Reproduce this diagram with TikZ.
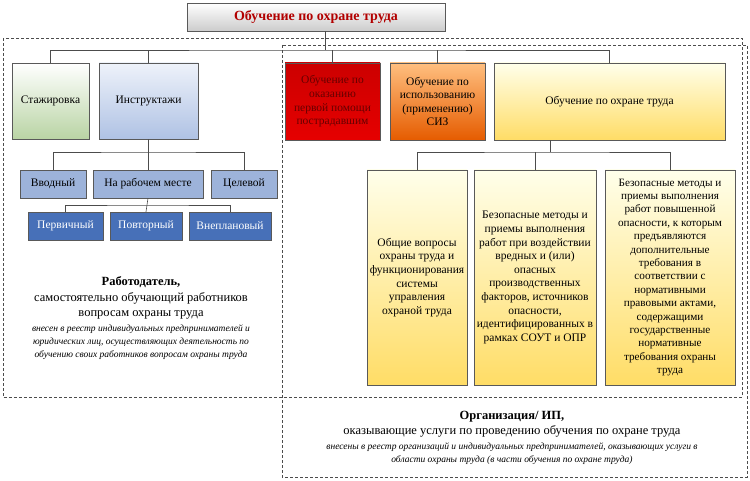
\documentclass[tikz,border=0pt]{standalone}
\usepackage{fontspec}
\setmainfont{Liberation Serif}
\usetikzlibrary{positioning}
\definecolor{lblueC}{HTML}{9DB3DA}
\definecolor{dblueC}{HTML}{4770B8}
\definecolor{blueTop}{HTML}{EEF2FA}
\definecolor{blueBot}{HTML}{AFC2E4}
\definecolor{greenBot}{HTML}{B9D4A4}
\begin{document}
\begin{tikzpicture}[x=1pt,y=-1pt,
    every node/.style={font=\fontsize{11.5}{13.6}\selectfont},
    ]
% -------------------------------------------------
% Box styles
\tikzset{
  base/.style={draw=black!65, align=center, inner sep=1pt},
  grey/.style={base, top color=white, bottom color=black!20},
  green/.style={base, top color=white, bottom color=greenBot},
  blue/.style={base, top color=blueTop, bottom color=blueBot},
  lblue/.style={base, fill=lblueC},
  dblue/.style={base, fill=dblueC, text=white},
  red/.style={base, top color=red!80!black, bottom color=red!90!black},
  orange/.style={base, top color=orange!50, bottom color=orange!80!red!90!black},
  yellow/.style={base, top color=yellow!8, bottom color=yellow!55!orange!60},
  conn/.style={draw=black!70, semithick},
  frame/.style={draw=black!70, densely dashed},
  it/.style={align=center, font={\fontsize{9.5}{13}\selectfont\itshape}}
}
\useasboundingbox (0,0) rectangle (750,481);
% -------------------------------------------------
% Dashed frames
\draw [frame] (3,38) rectangle (742,397);
\draw [frame] (282,45) rectangle (747,477);
% -------------------------------------------------
% Nodes
\node [grey, minimum width=258, minimum height=28, font=\fontsize{14}{16}\selectfont\bfseries, text=red!70!black]
  (top) at (316,17) {Обучение по охране труда};

\node [green, minimum width=77, minimum height=76] (stazh) at (50.5,101) {Стажировка};
\node [blue, minimum width=99, minimum height=76] (instr) at (148.5,101) {Инструктажи};
\node [red, minimum width=95, minimum height=77, text=red!40!black] (first) at (332.5,101.5)
  {Обучение по\\оказанию\\первой помощи\\пострадавшим};
\node [orange, minimum width=95, minimum height=77] (siz) at (437.5,101.5)
  {Обучение по\\использованию\\(применению)\\СИЗ};
\node [yellow, minimum width=231, minimum height=77] (ot) at (609.5,101.5) {Обучение по охране труда};

\node [lblue, minimum width=66, minimum height=28] (vvod) at (53,184) {Вводный};
\node [lblue, minimum width=110, minimum height=28] (rab) at (148,184) {На рабочем месте};
\node [lblue, minimum width=66, minimum height=28] (cel) at (244,184) {Целевой};

\node [dblue, minimum width=75, minimum height=28] (perv) at (65.5,226) {Первичный};
\node [dblue, minimum width=72, minimum height=28] (povt) at (146,226) {Повторный};
\node [dblue, minimum width=82, minimum height=28] (vnepl) at (230,226) {Внеплановый};

\node [yellow, minimum width=100, minimum height=215] (ot1) at (417,277.5)
  {Общие вопросы\\охраны труда и\\функционирования\\системы\\управления\\охраной труда};
\node [yellow, minimum width=122, minimum height=215] (ot2) at (535,277.5)
  {Безопасные методы и\\приемы выполнения\\работ при воздействии\\вредных и (или)\\опасных\\производственных\\факторов, источников\\опасности,\\идентифицированных в\\рамках СОУТ и ОПР};
\node [yellow, minimum width=130, minimum height=215, font=\fontsize{11.2}{13.4}\selectfont] (ot3) at (670,277.5)
  {Безопасные методы и\\приемы выполнения\\работ повышенной\\опасности, к которым\\предъявляются\\дополнительные\\требования в\\соответствии с\\нормативными\\правовыми актами,\\содержащими\\государственные\\нормативные\\требования охраны\\труда};

% -------------------------------------------------
% Captions
\node [align=center, font=\fontsize{12.5}{15.5}\selectfont] (empl) at (141,298)
  {\textbf{Работодатель,}\\самостоятельно обучающий работников\\вопросам охраны труда};
\node [it, below=-2pt of empl] (empl-it)
  {внесен в реестр индивидуальных предпринимателей и\\
   юридических лиц, осуществляющих деятельность по\\обучению своих работников вопросам охраны труда};
\node [align=center, font=\fontsize{12.5}{15.5}\selectfont] (org) at (512,424)
  {\textbf{Организация/ ИП,}\\оказывающие услуги по проведению обучения по охране труда};
\node [it, below=-2pt of org] (org-it)
  {внесены в реестр организаций и индивидуальных предпринимателей, оказывающих услуги в\\
   области охраны труда (в части обучения по охране труда)};

% -------------------------------------------------
% Connectors
\coordinate (bus1) at (325,50);
\draw [conn] (top.south -| bus1) -- (bus1);
\draw [conn] (stazh.north) |- (bus1) -| (ot.north);
\draw [conn] (instr.north) -- (instr.north |- bus1);
\draw [conn] (first.north) -- (first.north |- bus1);
\draw [conn] (siz.north) -- (siz.north |- bus1);

\coordinate (bus2) at (148,152);
\draw [conn] (instr.south -| bus2) -- (rab.north);
\draw [conn] (vvod.north) |- (bus2) -| (cel.north);

\coordinate (bus3) at (148,205);
\draw [conn] (rab.south) -- (povt.north);
\draw [conn] (perv.north) |- (bus3) -| (vnepl.north);

\coordinate (bus4) at (550,152);
\draw [conn] (ot.south -| bus4) -- (bus4);
\draw [conn] (ot1.north) |- (bus4) -| (ot3.north);
\draw [conn] (ot2.north) -- (ot2.north |- bus4);
% -------------------------------------------------
\end{tikzpicture}
\end{document}
